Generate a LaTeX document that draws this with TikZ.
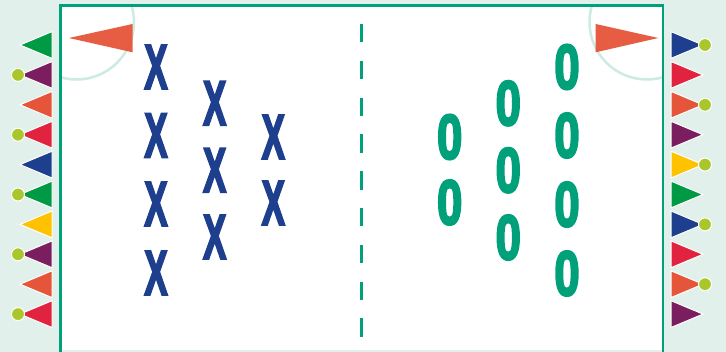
\documentclass[tikz,border=0pt]{standalone}
\usepackage{fontspec}
\newfontfamily\markfont{Liberation Sans}[BoldFeatures={FakeBold=4}]
\definecolor{mint}{HTML}{E2F0EB}
\definecolor{fieldteal}{HTML}{00A07A}
\definecolor{arcmint}{HTML}{CDEBE2}
\definecolor{xblue}{HTML}{1D3F8D}
\definecolor{pgreen}{HTML}{009A44}
\definecolor{ppurple}{HTML}{7B1E5F}
\definecolor{porange}{HTML}{E5553A}
\definecolor{pred}{HTML}{E2233F}
\definecolor{pblue}{HTML}{1D3F8D}
\definecolor{pyellow}{HTML}{FEC200}
\definecolor{lime}{HTML}{A9C62B}
\begin{document}
\begin{tikzpicture}[x=1pt,y=-1pt,
  pennant/.style={draw=white,line width=1pt,line join=miter},
  balldot/.style={fill=lime,draw=white,line width=1pt},
  xmark/.style={inner sep=0pt,text=xblue,font={\markfont\bfseries\fontsize{63}{70}\selectfont}},
  omark/.style={inner sep=0pt,text=fieldteal,font={\markfont\bfseries\fontsize{63}{70}\selectfont}},
  cornerflag/.style={fill=porange,opacity=0.95}]
\useasboundingbox (0,0) rectangle (726,352);
\fill[mint] (0,0) rectangle (726,352);
\fill[white] (60.5,5.7) rectangle (662.8,350.5);
\begin{scope}
  \clip (60.5,5.7) rectangle (662.8,350.5);
  \draw[arcmint,line width=2.5pt] (76.5,22) circle (57.5);
  \draw[arcmint,line width=2.5pt] (647,22) circle (57.5);
\end{scope}
\draw[fieldteal,line width=2.6pt] (60.5,352) -- (60.5,5.7) -- (662.8,5.7) -- (662.8,352);
\coordinate (ctop) at (361.5,24);
\coordinate (cbot) at (361.5,337);
\draw[fieldteal,line width=3pt,dash pattern=on 18.4pt off 18.4pt] (ctop) -- (cbot);
% corner flags
\fill[cornerflag] (132.5,24) -- (132.5,52.3) -- (69,38) -- cycle;
\fill[cornerflag] (595.7,24) -- (595.7,52.3) -- (658.3,38) -- cycle;
% left pennants
\foreach \c [count=\i from 0] in {pgreen,ppurple,porange,pred,pblue,pgreen,pyellow,ppurple,porange,pred}{
  \pgfmathsetmacro{\yc}{45+29.9*\i}
  \filldraw[pennant,fill=\c] (52,\yc-13.4) -- (52,\yc+13.4) -- (20,\yc) -- cycle;
  \ifodd\i \filldraw[balldot] (18,\yc) circle (6.5); \fi
}
% right pennants
\foreach \c [count=\i from 0] in {pblue,pred,porange,ppurple,pyellow,pgreen,pblue,pred,porange,ppurple}{
  \pgfmathsetmacro{\yc}{45+29.9*\i}
  \filldraw[pennant,fill=\c] (671,\yc-13.4) -- (671,\yc+13.4) -- (703,\yc) -- cycle;
  \ifodd\i \else \filldraw[balldot] (705,\yc) circle (6.5); \fi
}
% X players
\node[xmark] (x1) at (156,67) {\scalebox{0.55}[1]{X}};
\node[xmark] (x2) at (156,135.5) {\scalebox{0.55}[1]{X}};
\node[xmark] (x3) at (156,204) {\scalebox{0.55}[1]{X}};
\node[xmark] (x4) at (156,273) {\scalebox{0.55}[1]{X}};
\node[xmark] (x5) at (214.7,103.3) {\scalebox{0.55}[1]{X}};
\node[xmark] (x6) at (214.7,170.3) {\scalebox{0.55}[1]{X}};
\node[xmark] (x7) at (214.7,237) {\scalebox{0.55}[1]{X}};
\node[xmark] (x8) at (273.3,137) {\scalebox{0.55}[1]{X}};
\node[xmark] (x9) at (273.3,203) {\scalebox{0.55}[1]{X}};
% O players
\node[omark] (o1) at (567,67) {\scalebox{0.72}[1]{0}};
\node[omark] (o2) at (567,135.5) {\scalebox{0.72}[1]{0}};
\node[omark] (o3) at (567,204.5) {\scalebox{0.72}[1]{0}};
\node[omark] (o4) at (567,273.5) {\scalebox{0.72}[1]{0}};
\node[omark] (o5) at (508.3,103.3) {\scalebox{0.72}[1]{0}};
\node[omark] (o6) at (508.3,170.3) {\scalebox{0.72}[1]{0}};
\node[omark] (o7) at (508.3,237.5) {\scalebox{0.72}[1]{0}};
\node[omark] (o8) at (449.7,137) {\scalebox{0.72}[1]{0}};
\node[omark] (o9) at (449.7,202.5) {\scalebox{0.72}[1]{0}};
\end{tikzpicture}
\end{document}
